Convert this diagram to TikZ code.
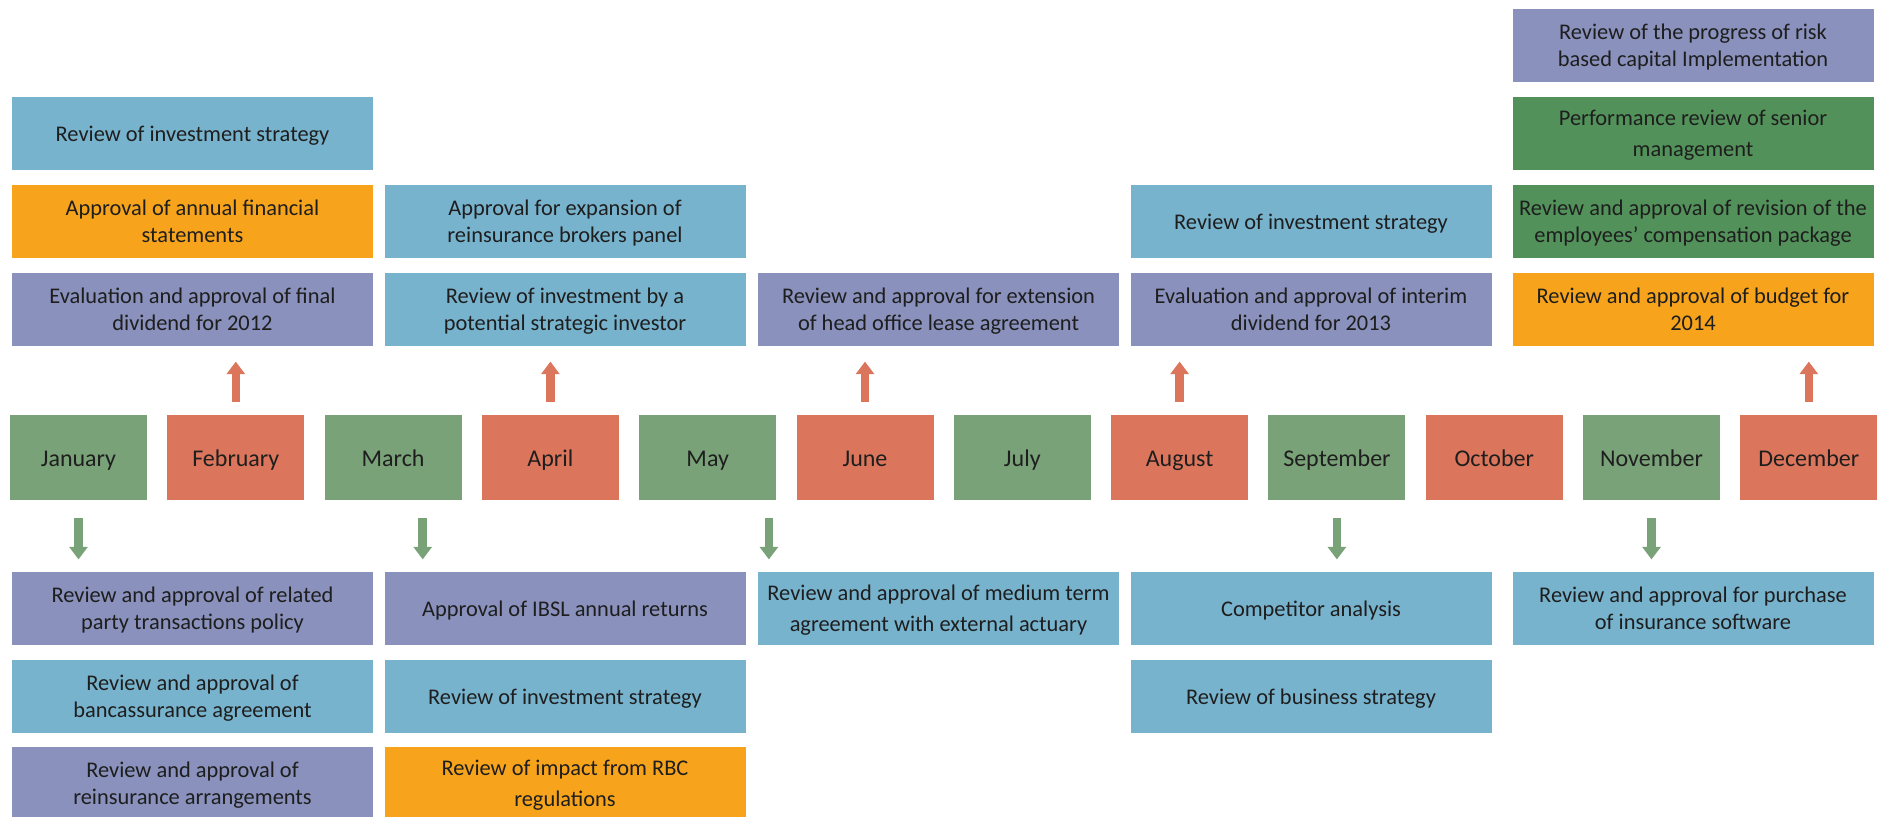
\documentclass[tikz,border=0pt]{standalone}
\usepackage{fontspec}
\setmainfont{Carlito}
\usepackage{xcolor}
\usepackage{tikz}
\usetikzlibrary{positioning,arrows.meta}
\definecolor{mgreen}{RGB}{122,162,121}
\definecolor{mred}{RGB}{219,118,92}
\definecolor{tblue}{RGB}{120,179,206}
\definecolor{tpurple}{RGB}{137,145,188}
\definecolor{torange}{RGB}{247,164,28}
\definecolor{tgreen}{RGB}{82,146,90}
\definecolor{ink}{RGB}{30,30,30}

\begin{document}
\begin{tikzpicture}[x=0.5pt,y=-0.5pt,
    month/.style={rectangle, minimum width=68.5pt, minimum height=42.5pt, inner sep=0pt, text height=9.2pt, text depth=0pt, font=\fontsize{12}{14}\selectfont, text=ink},
    gmonth/.style={month, fill=mgreen},
    rmonth/.style={month, fill=mred},
    task/.style={rectangle, minimum width=180.5pt, minimum height=36.5pt, inner sep=0pt, text depth=-1pt, align=center, font=\fontsize{11.2}{13.5}\selectfont, text=ink},
    loose/.style={font=\fontsize{11.2}{15.5}\selectfont},
    blue/.style={task, fill=tblue},
    purple/.style={task, fill=tpurple},
    orange/.style={task, fill=torange},
    green/.style={task, fill=tgreen},
    uparr/.style={draw=mred, line width=4.3pt, -{Triangle[width=9pt,length=6.3pt]}},
    downarr/.style={draw=mgreen, line width=4.3pt, -{Triangle[width=9pt,length=6.3pt]}}
  ]
  \useasboundingbox (0,0) rectangle (1883,816);

  % months
  \node[gmonth] at (78.5,457.5) (jan) {January};
  \node[rmonth] at (235.8,457.5) (feb) {February};
  \node[gmonth] at (393.1,457.5) (mar) {March};
  \node[rmonth] at (550.4,457.5) (apr) {April};
  \node[gmonth] at (707.7,457.5) (may) {May};
  \node[rmonth] at (865,457.5) (jun) {June};
  \node[gmonth] at (1022.3,457.5) (jul) {July};
  \node[rmonth] at (1179.6,457.5) (aug) {August};
  \node[gmonth] at (1336.9,457.5) (sep) {September};
  \node[rmonth] at (1494.2,457.5) (oct) {October};
  \node[gmonth] at (1651.5,457.5) (nov) {November};
  \node[rmonth] at (1808.8,457.5) (dec) {December};

  % upper boxes
  \node[blue] at (192.5,133.5) (c1b) {Review of investment strategy};
  \node[orange] at (192.5,221.5) (c1c) {Approval of annual financial\\statements};
  \node[purple] at (192.5,309.5) (c1d) {Evaluation and approval of final\\dividend for 2012};
  \node[blue] at (565,221.5) (c2c) {Approval for expansion of\\reinsurance brokers panel};
  \node[blue] at (565,309.5) (c2d) {Review of investment by a\\potential strategic investor};
  \node[purple] at (938.5,309.5) (c3d) {Review and approval for extension\\of head office lease agreement};
  \node[blue] at (1311,221.5) (c4c) {Review of investment strategy};
  \node[purple] at (1311,309.5) (c4d) {Evaluation and approval of interim\\dividend for 2013};
  \node[purple] at (1693,45.5) (c5a) {Review of the progress of risk\\based capital Implementation};
  \node[green,loose] at (1693,133.5) (c5b) {Performance review of senior\\management};
  \node[green] at (1693,221.5) (c5c) {Review and approval of revision of the\\employees’ compensation package};
  \node[orange] at (1693,309.5) (c5d) {Review and approval of budget for\\2014};

  % lower boxes
  \node[purple] at (192.5,608.5) (c1e) {Review and approval of related\\party transactions policy};
  \node[blue] at (192.5,696.5) (c1f) {Review and approval of\\bancassurance agreement};
  \node[purple] at (192.5,783.5) (c1g) {Review and approval of\\reinsurance arrangements};
  \node[purple] at (565,608.5) (c2e) {Approval of IBSL annual returns};
  \node[blue] at (565,696.5) (c2f) {Review of investment strategy};
  \node[orange,loose] at (565,783.5) (c2g) {Review of impact from RBC\\regulations};
  \node[blue,loose] at (938.5,608.5) (c3e) {Review and approval of medium term\\agreement with external actuary};
  \node[blue] at (1311,608.5) (c4e) {Competitor analysis};
  \node[blue] at (1311,696.5) (c4f) {Review of business strategy};
  \node[blue] at (1693,608.5) (c5e) {Review and approval for purchase\\of insurance software};

  % arrows
  \draw[uparr] ([yshift=6.5pt]feb.north) -- ++(0,-40);
  \draw[uparr] ([yshift=6.5pt]apr.north) -- ++(0,-40);
  \draw[uparr] ([yshift=6.5pt]jun.north) -- ++(0,-40);
  \draw[uparr] ([yshift=6.5pt]aug.north) -- ++(0,-40);
  \draw[uparr] ([yshift=6.5pt]dec.north) -- ++(0,-40);
  \draw[downarr] ([yshift=-9pt]jan.south) -- ++(0,41);
  \draw[downarr] ([xshift=14.8pt,yshift=-9pt]mar.south) -- ++(0,41);
  \draw[downarr] ([xshift=30.6pt,yshift=-9pt]may.south) -- ++(0,41);
  \draw[downarr] ([yshift=-9pt]sep.south) -- ++(0,41);
  \draw[downarr] ([yshift=-9pt]nov.south) -- ++(0,41);
\end{tikzpicture}
\end{document}
